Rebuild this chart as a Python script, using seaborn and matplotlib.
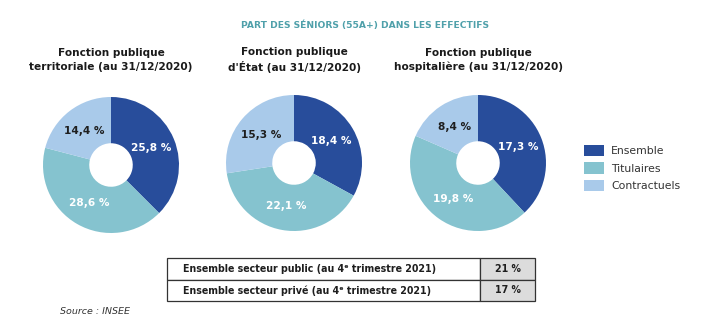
import matplotlib
matplotlib.use("Agg")
import matplotlib.pyplot as plt
import seaborn as sns
import numpy as np
from matplotlib.patches import Rectangle, Patch

sns.set_theme(style="white")
plt.rcParams['font.family'] = ['DejaVu Sans']

# ---- data ----
title = "PART DES SÉNIORS (55A+) DANS LES EFFECTIFS"
categories = ["Ensemble", "Titulaires", "Contractuels"]
pie_titles = ["Fonction publique\nterritoriale (au 31/12/2020)",
              "Fonction publique\nd'État (au 31/12/2020)",
              "Fonction publique\nhospitalière (au 31/12/2020)"]
territoriale = [25.8, 28.6, 14.4]
etat = [18.4, 22.1, 15.3]
hospitaliere = [17.3, 19.8, 8.4]
series = [territoriale, etat, hospitaliere]
table_labels = ["Ensemble secteur public (au 4ᵉ trimestre 2021)",
                "Ensemble secteur privé (au 4ᵉ trimestre 2021)"]
table_values = ["21 %", "17 %"]
source = "Source : INSEE"

colors = ["#284d9b", "#85c3cf", "#a9caea"]
text_colors = ["white", "white", "#1e1e1e"]

W, H = 722, 322
fig = plt.figure(figsize=(W / 100, H / 100), dpi=100)

def px_axes(x0, y0, w, h):
    return fig.add_axes([x0 / W, 1 - (y0 + h) / H, w / W, h / H])

fig.text(365 / W, 1 - 25 / H, title, ha="center", va="center",
         fontsize=6.55, fontweight="bold", color="#4fa0aa")

centers = [(111, 165), (294, 163), (478, 163)]
R = 68
for (cx, cy), vals, ttl in zip(centers, series, pie_titles):
    ax = px_axes(cx - R, cy - R, 2 * R, 2 * R)
    wedges, _ = ax.pie(vals, colors=colors, startangle=90, counterclock=False,
                       radius=1.0, wedgeprops=dict(width=0.68, linewidth=0))
    for w, v, tc in zip(wedges, vals, text_colors):
        ang = np.deg2rad((w.theta1 + w.theta2) / 2)
        d = 0.64
        ax.text(d * np.cos(ang), d * np.sin(ang), f"{v:.1f} %".replace(".", ","),
                ha="center", va="center", fontsize=7.6, fontweight="bold", color=tc)
    ax.set_xlim(-1, 1)
    ax.set_ylim(-1, 1)
    ax.set_aspect("equal")
    ax.axis("off")
    fig.text(cx / W, 1 - 60 / H, ttl, ha="center", va="center",
             fontsize=7.6, fontweight="bold", color="#1a1a1a", linespacing=1.45)

# legend
handles = [Patch(facecolor=c, edgecolor="none", label=l) for c, l in zip(colors, categories)]
fig.legend(handles=handles, loc="center left", bbox_to_anchor=(574 / W, 1 - 168 / H),
           frameon=False, fontsize=7.8, handlelength=1.85, handleheight=1.2,
           labelspacing=0.6, handletextpad=0.7, labelcolor="#333333")

# table
tx0, ty0, tw, th = 167, 258, 368, 43
split = 480
tax = px_axes(tx0, ty0, tw, th)
tax.set_xlim(tx0, tx0 + tw)
tax.set_ylim(ty0 + th, ty0)
tax.axis("off")
rowh = th / len(table_labels)
for i, (lab, val) in enumerate(zip(table_labels, table_values)):
    y = ty0 + i * rowh
    tax.add_patch(Rectangle((tx0, y), split - tx0, rowh, facecolor="white",
                            edgecolor="#333333", linewidth=0.9, clip_on=False))
    tax.add_patch(Rectangle((split, y), tx0 + tw - split, rowh, facecolor="#dcdcdc",
                            edgecolor="#333333", linewidth=0.9, clip_on=False))
    tax.text(tx0 + 16, y + rowh / 2, lab, ha="left", va="center",
             fontsize=6.85, fontweight="bold", color="#1e1e1e")
    tax.text((split + tx0 + tw) / 2, y + rowh / 2, val, ha="center", va="center",
             fontsize=6.85, fontweight="bold", color="#1e1e1e")

fig.text(60 / W, 1 - 311 / H, source, ha="left", va="center",
         fontsize=6.8, style="italic", color="#333333")

fig.savefig("out.png", dpi=100, facecolor="white")
